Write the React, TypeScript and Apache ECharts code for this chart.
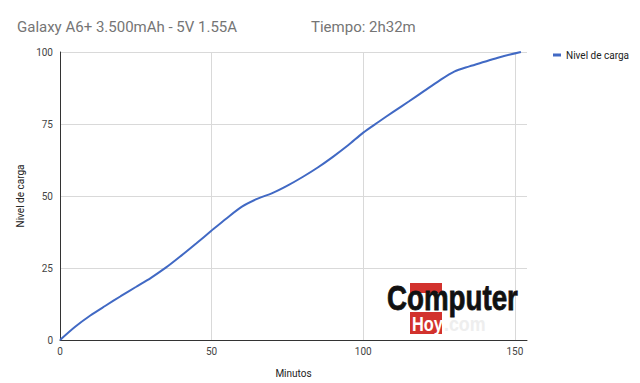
import React, { useEffect, useRef } from "react";
import * as echarts from "echarts";

const minutes = [0, 5, 10, 15, 20, 25, 30, 35, 40, 45, 50, 55, 60, 65, 70, 75, 80, 85, 90, 95, 100, 105, 110, 115, 120, 125, 130, 135, 140, 145, 152];
const level = [0, 4.6, 8.5, 11.9, 15.2, 18.4, 21.6, 25.2, 29.3, 33.6, 38.0, 42.3, 46.3, 49.0, 51.0, 53.6, 56.6, 59.9, 63.6, 67.6, 72.0, 75.7, 79.3, 82.8, 86.4, 90.0, 93.2, 95.0, 96.6, 98.2, 100];
const xTicks = [0, 50, 100, 150];
const yTicks = [0, 25, 50, 75, 100];
const seriesName = "Nivel de carga";
const titleText = "Galaxy A6+ 3.500mAh - 5V 1.55A";
const timeText = "Tiempo: 2h32m";

export default function App() {
  const ref = useRef<HTMLDivElement>(null);
  useEffect(() => {
    if (!ref.current) return;
    const chart = echarts.init(ref.current, undefined, { renderer: "svg" });
    const font = "Roboto, 'Noto Sans', Arial, sans-serif";
    const logoFont = "'Liberation Sans', Arial, sans-serif";
    chart.setOption({
      animation: false,
      textStyle: { fontFamily: font },
      grid: { left: 60, right: 113, top: 52, bottom: 42, containLabel: false },
      legend: {
        left: 548,
        top: 45,
        icon: "rect",
        itemWidth: 8,
        itemHeight: 3,
        itemGap: 6,
        textStyle: { fontSize: 10, color: "#222", fontFamily: font },
        data: [seriesName],
      },
      xAxis: {
        type: "value",
        min: 0,
        max: 154,
        interval: 50,
        name: "Minutos",
        nameLocation: "middle",
        nameGap: 28,
        nameTextStyle: { fontSize: 10, color: "#222", fontFamily: font },
        axisLine: { show: true, lineStyle: { color: "#333", width: 1 } },
        axisTick: { show: false },
        axisLabel: {
          fontSize: 10,
          color: "#444",
          margin: 6,
          formatter: (v: number) => (xTicks.includes(v) ? String(v) : ""),
        },
        splitLine: { show: true, showMaxLine: false, lineStyle: { color: "#d9d9d9", width: 1 } },
      },
      yAxis: {
        type: "value",
        min: yTicks[0],
        max: yTicks[yTicks.length - 1],
        interval: 25,
        name: seriesName,
        nameLocation: "middle",
        nameGap: 34,
        nameRotate: 90,
        nameTextStyle: { fontSize: 10, color: "#222", fontFamily: font },
        axisLine: { show: true, lineStyle: { color: "#333", width: 1 } },
        axisTick: { show: false },
        axisLabel: { fontSize: 10, color: "#444", margin: 7 },
        splitLine: { show: true, lineStyle: { color: "#d9d9d9", width: 1 } },
      },
      graphic: [
        {
          type: "text",
          left: 17,
          top: 19,
          style: { text: titleText, fontSize: 15, fill: "#757575", fontFamily: font },
        },
        {
          type: "text",
          left: 311,
          top: 19,
          style: { text: timeText, fontSize: 15, fill: "#757575", fontFamily: font },
        },
        { type: "rect", shape: { x: 410, y: 283, width: 32, height: 10 }, style: { fill: "#d2322d" }, z: 10 },
        { type: "rect", shape: { x: 410, y: 312, width: 32, height: 22 }, style: { fill: "#d2322d" }, z: 10 },
        {
          type: "text",
          x: 387,
          y: 284,
          scaleX: 0.77,
          z: 11,
          style: {
            text: "Computer",
            fontSize: 36,
            lineHeight: 28,
            fontWeight: "bold",
            fill: "#111",
            stroke: "#111",
            lineWidth: 0.8,
            fontFamily: logoFont,
          },
        },
        {
          type: "text",
          x: 412,
          y: 313,
          scaleX: 0.78,
          z: 11,
          style: {
            text: "Hoy",
            fontSize: 21,
            lineHeight: 21,
            fontWeight: "bold",
            fill: "#fff",
            fontFamily: logoFont,
          },
        },
        {
          type: "text",
          x: 444,
          y: 313,
          scaleX: 0.85,
          z: 11,
          style: {
            text: ".com",
            fontSize: 21,
            lineHeight: 21,
            fontWeight: "bold",
            fill: "#eeeeee",
            fontFamily: logoFont,
          },
        },
      ],
      series: [
        {
          name: seriesName,
          type: "line",
          data: minutes.map((m, i) => [m, level[i]]),
          smooth: 0.3,
          showSymbol: false,
          symbol: "none",
          lineStyle: { color: "#4169c4", width: 2 },
          itemStyle: { color: "#4169c4" },
        },
      ],
    });
    return () => chart.dispose();
  }, []);
  return <div ref={ref} style={{ width: 640, height: 383, position: "absolute", left: 0, top: 0, background: "#fff" }} />;
}
